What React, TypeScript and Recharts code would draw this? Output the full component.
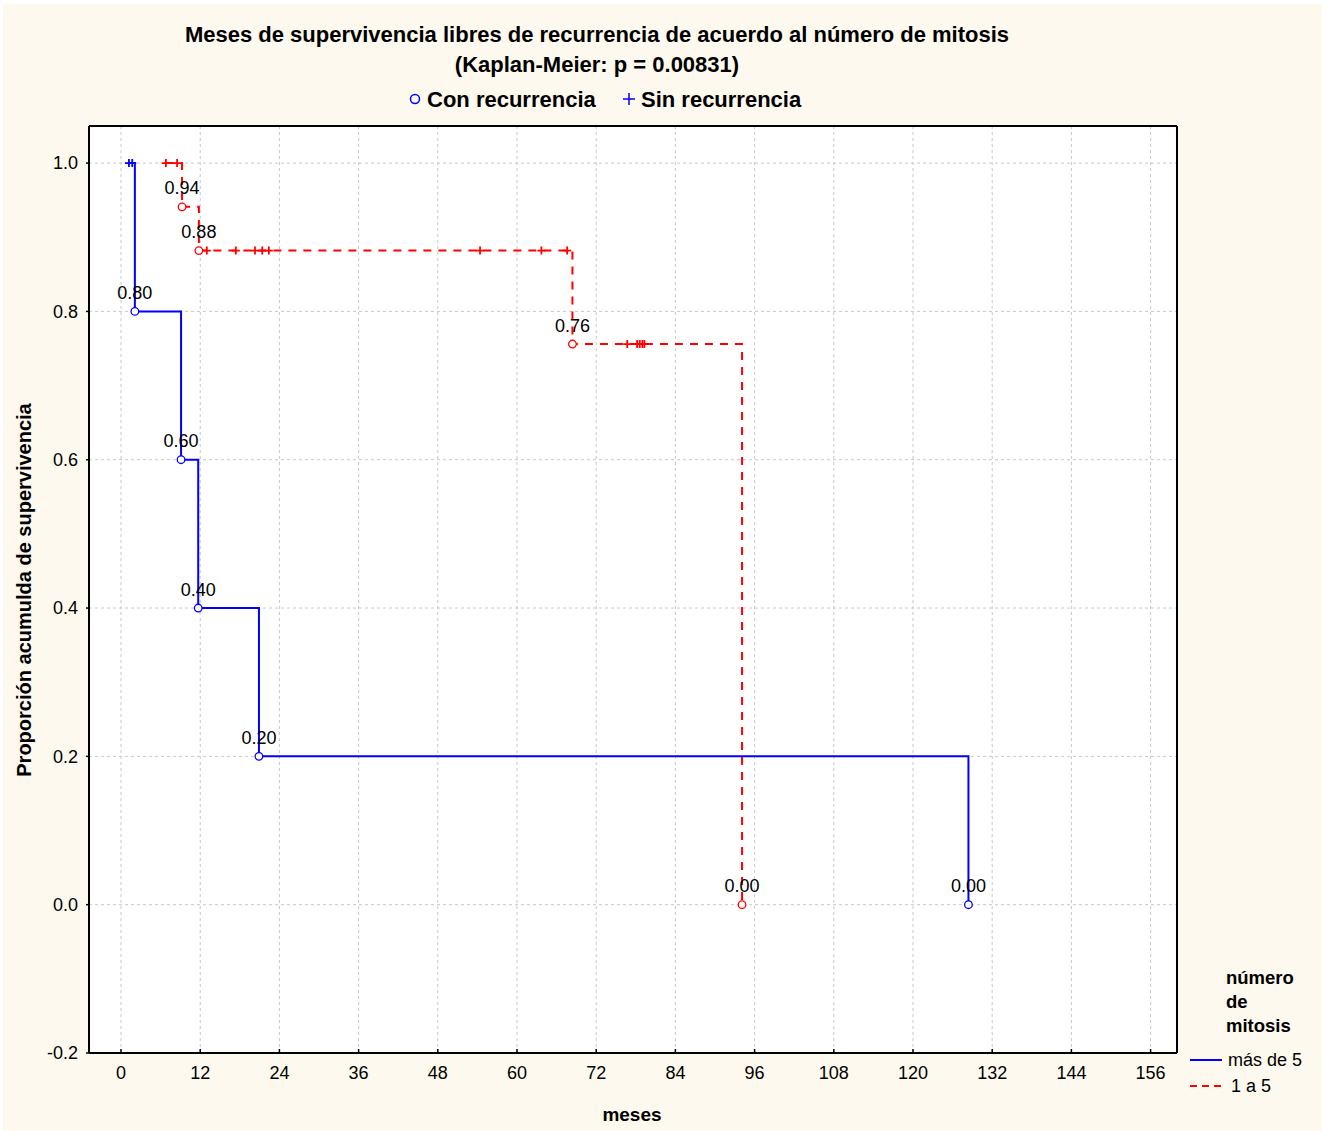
import React from 'react';
import {
  ComposedChart, Line, Scatter, XAxis, YAxis, CartesianGrid, LabelList,
} from 'recharts';

// ejes
const monthTicks = [0, 12, 24, 36, 48, 60, 72, 84, 96, 108, 120, 132, 144, 156];
const topTicks = [0, 20, 40, 60, 80, 100, 120, 140];
const propTicks = [-0.2, 0, 0.2, 0.4, 0.6, 0.8, 1.0];

// más de 5 mitosis (azul)
const blueStepTimes = [1.2, 2.1, 9.1, 11.7, 20.9, 128.4];
const blueStepSurv = [1.0, 0.8, 0.6, 0.4, 0.2, 0.0];
const blueEventTimes = [2.1, 9.1, 11.7, 20.9, 128.4];
const blueEventSurv = [0.8, 0.6, 0.4, 0.2, 0.0];
const blueCensorTimes = [1.2, 1.7];
const blueCensorSurv = [1.0, 1.0];

// 1 a 5 mitosis (rojo)
const redStepTimes = [6.8, 9.25, 11.8, 68.4, 94.1];
const redStepSurv = [1.0, 0.941, 0.882, 0.756, 0.0];
const redEventTimes = [9.25, 11.8, 68.4, 94.1];
const redEventSurv = [0.941, 0.882, 0.756, 0.0];
const redCensorTimes = [6.8, 8.5, 13.0, 17.4, 20.3, 21.4, 22.4, 54.4, 63.7, 67.6, 76.7, 78.2, 78.6, 79.0, 79.3];
const redCensorSurv = [1.0, 1.0, 0.882, 0.882, 0.882, 0.882, 0.882, 0.882, 0.882, 0.882, 0.756, 0.756, 0.756, 0.756, 0.756];

const pts = (ts: number[], ss: number[]) => ts.map((t, i) => ({ t, s: ss[i] }));

const blueLine = pts(blueStepTimes, blueStepSurv);
const blueEvents = pts(blueEventTimes, blueEventSurv);
const blueCensor = pts(blueCensorTimes, blueCensorSurv);
const redLine = pts(redStepTimes, redStepSurv);
const redEvents = pts(redEventTimes, redEventSurv);
const redCensor = pts(redCensorTimes, redCensorSurv);

const BLUE = '#0000ff';
const RED = '#ff0000';
const FONT = '"Liberation Sans", Arial, sans-serif';
const X_DOMAIN: [number, number] = [-4.85, 160];
const Y_DOMAIN: [number, number] = [-0.2, 1.05];

const plus = (color: string) => (p: any) => (
  <path d={`M${p.cx - 4},${p.cy}H${p.cx + 4}M${p.cx},${p.cy - 4}V${p.cy + 4}`}
    stroke={color} strokeWidth={1.8} fill="none" />
);
const ring = (color: string) => (p: any) => (
  <circle cx={p.cx} cy={p.cy} r={3.8} fill="#fff" stroke={color} strokeWidth={1.3} />
);

const fmt2 = (v: any) => Number(v).toFixed(2);

export default function App() {
  const axisLine = { stroke: '#000', strokeWidth: 2 };
  const tickLine = { stroke: '#000', strokeWidth: 1.5 };
  return (
    <div style={{ position: 'absolute', left: 0, top: 0, width: 1330, height: 1131, background: '#fff', fontFamily: FONT }}>
      <div style={{ position: 'absolute', left: 3, top: 4, width: 1319, height: 1127, background: '#fdf9ee' }} />
      <div style={{ position: 'absolute', left: 0, top: 0 }}>
        <ComposedChart width={1330} height={1131} margin={{ top: 126, right: 153, bottom: 48, left: 29 }}
          style={{ fontFamily: FONT }}>
          <CartesianGrid xAxisId="b" yAxisId="l" fill="#fff" stroke="#c8c8c8" strokeDasharray="3 3" />
          <XAxis xAxisId="b" dataKey="t" type="number" domain={X_DOMAIN} ticks={monthTicks}
            allowDataOverflow interval={0} height={30} tickSize={-4} tickMargin={17}
            axisLine={axisLine} tickLine={tickLine} tick={{ fill: '#000', fontSize: 18 }} />
          <XAxis xAxisId="t" dataKey="t" type="number" orientation="top" domain={X_DOMAIN}
            ticks={topTicks} allowDataOverflow interval={0} height={1} mirror tickSize={5}
            axisLine={axisLine} tickLine={tickLine} tick={false} />
          <YAxis yAxisId="l" type="number" domain={Y_DOMAIN} ticks={propTicks} allowDataOverflow
            interval={0} width={60} tickSize={3} tickMargin={8}
            tickFormatter={(v: number) => v.toFixed(1)}
            axisLine={axisLine} tickLine={tickLine} tick={{ fill: '#000', fontSize: 18 }} />
          <YAxis yAxisId="r" type="number" orientation="right" domain={Y_DOMAIN} ticks={propTicks}
            allowDataOverflow interval={0} width={1} mirror tickSize={4}
            axisLine={axisLine} tickLine={tickLine} tick={false} />

          <Line data={redLine} dataKey="s" xAxisId="t" yAxisId="r" type="stepAfter" stroke={RED}
            strokeWidth={2} strokeDasharray="8 7" dot={false} isAnimationActive={false} />
          <Line data={blueLine} dataKey="s" xAxisId="b" yAxisId="l" type="stepAfter" stroke={BLUE}
            strokeWidth={2} dot={false} isAnimationActive={false} />

          <Scatter data={redCensor} dataKey="s" xAxisId="b" yAxisId="l" shape={plus(RED)} isAnimationActive={false} />
          <Scatter data={blueCensor} dataKey="s" xAxisId="b" yAxisId="l" shape={plus(BLUE)} isAnimationActive={false} />
          <Scatter data={redEvents} dataKey="s" xAxisId="b" yAxisId="l" shape={ring(RED)} isAnimationActive={false}>
            <LabelList dataKey="s" position="top" offset={8} formatter={fmt2} fill="#000" fontSize={18} />
          </Scatter>
          <Scatter data={blueEvents} dataKey="s" xAxisId="b" yAxisId="l" shape={ring(BLUE)} isAnimationActive={false}>
            <LabelList dataKey="s" position="top" offset={8} formatter={fmt2} fill="#000" fontSize={18} />
          </Scatter>
        </ComposedChart>
      </div>

      <svg width={1330} height={1131} style={{ position: 'absolute', left: 0, top: 0, pointerEvents: 'none' }}
        fontFamily={FONT}>
        <text x={597} y={34} textAnchor="middle" dominantBaseline="central" fontSize={22} fontWeight="bold">
          Meses de supervivencia libres de recurrencia de acuerdo al número de mitosis
        </text>
        <text x={597} y={64} textAnchor="middle" dominantBaseline="central" fontSize={22} fontWeight="bold">
          (Kaplan-Meier: p = 0.00831)
        </text>
        <circle cx={415} cy={99} r={4.5} fill="none" stroke={BLUE} strokeWidth={1.5} />
        <text x={427} y={99} dominantBaseline="central" fontSize={22} fontWeight="bold">Con recurrencia</text>
        <path d="M623,99H635M629,93V105" stroke={BLUE} strokeWidth={1.5} />
        <text x={641} y={99} dominantBaseline="central" fontSize={22} fontWeight="bold">Sin recurrencia</text>

        <text x={632} y={1114} textAnchor="middle" dominantBaseline="central" fontSize={19} fontWeight="bold">meses</text>
        <text transform="translate(24,590) rotate(-90)" textAnchor="middle" dominantBaseline="central"
          fontSize={20} fontWeight="bold">Proporción acumulda de supervivencia</text>

        <text x={1226} y={977} dominantBaseline="central" fontSize={18.5} fontWeight="bold">número</text>
        <text x={1226} y={1001} dominantBaseline="central" fontSize={18.5} fontWeight="bold">de</text>
        <text x={1226} y={1025} dominantBaseline="central" fontSize={18.5} fontWeight="bold">mitosis</text>
        <line x1={1190} y1={1060} x2={1222} y2={1060} stroke={BLUE} strokeWidth={2} />
        <text x={1228} y={1060} dominantBaseline="central" fontSize={18}>más de 5</text>
        <line x1={1190} y1={1086} x2={1222} y2={1086} stroke={RED} strokeWidth={2} strokeDasharray="7 5" />
        <text x={1231} y={1086} dominantBaseline="central" fontSize={18}>1 a 5</text>
      </svg>
    </div>
  );
}
